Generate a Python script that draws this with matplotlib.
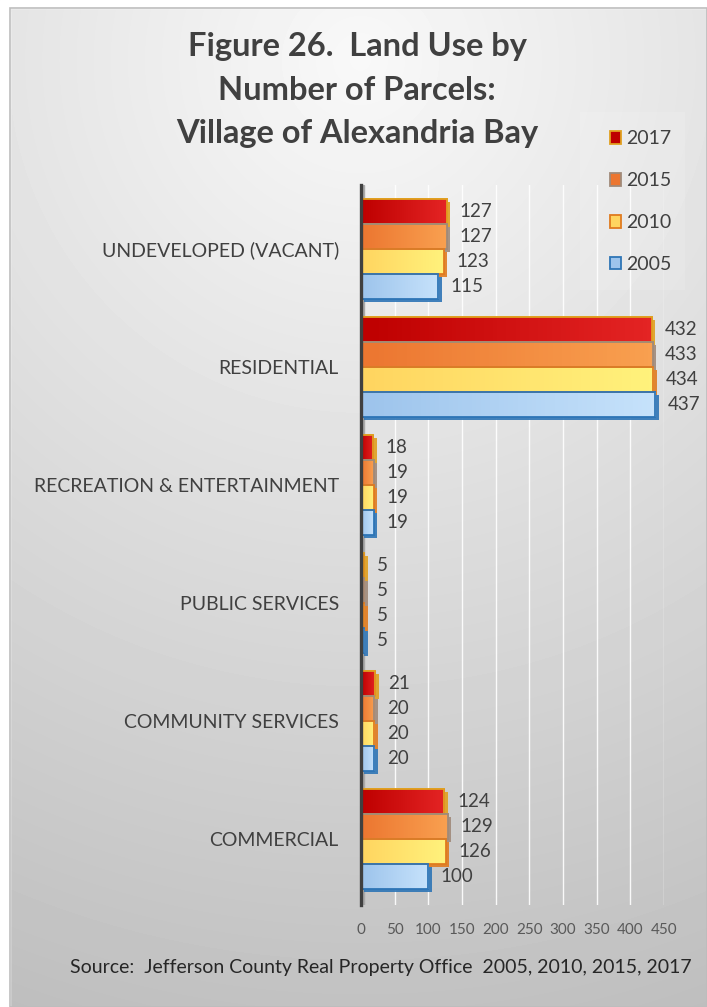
import numpy as np
import matplotlib
matplotlib.use('Agg')
import matplotlib.pyplot as plt
from matplotlib.patches import Rectangle, Patch
from matplotlib.colors import LinearSegmentedColormap
import matplotlib.patheffects as pe

plt.rcParams['font.family'] = ['Lato', 'DejaVu Sans']

# ------------------------------------------------------------
# data
# ------------------------------------------------------------
categories = ['UNDEVELOPED (VACANT)', 'RESIDENTIAL', 'RECREATION & ENTERTAINMENT',
              'PUBLIC SERVICES', 'COMMUNITY SERVICES', 'COMMERCIAL']
years = ['2017', '2015', '2010', '2005']
v2017 = [127, 432, 18, 5, 21, 124]
v2015 = [127, 433, 19, 5, 20, 129]
v2010 = [123, 434, 19, 5, 20, 126]
v2005 = [115, 437, 19, 5, 20, 100]
series = [v2017, v2015, v2010, v2005]
xticks = [0, 50, 100, 150, 200, 250, 300, 350, 400, 450]

# left colour, right colour, outline
styles = {
    '2017': ('#BE0000', '#E42424', '#E0A020'),
    '2015': ('#EC7630', '#F9A050', '#A08A7A'),
    '2010': ('#FFD560', '#FFF27C', '#E07B1F'),
    '2005': ('#9DC4EC', '#C6E2FB', '#2E75B6'),
}

W, H = 707, 1007
fig = plt.figure(figsize=(W / 100, H / 100), dpi=100)

# background panel with soft radial shading
bg = fig.add_axes([0, 0, 1, 1], zorder=-10)
bg.set_xlim(0, W)
bg.set_ylim(H, 0)
bg.axis('off')
yy, xx = np.mgrid[0:H, 0:W]
r = np.hypot((xx - 360) / H, (yy - 60) / H)
shade = np.clip(0.975 - 0.23 * r, 0, 1)
bg.imshow(shade, cmap='gray', vmin=0, vmax=1, extent=(0, W, H, 0), aspect='auto')
bg.add_patch(Rectangle((0, 0), 10, H, color='white', zorder=3))
bg.add_patch(Rectangle((0, 0), W, 8, color='white', zorder=3))
bg.add_patch(Rectangle((10, 8), W - 10, H - 8, fill=False, ec='#BDBDBD', lw=1.2, zorder=4))
# faint panel behind the legend
bg.add_patch(Rectangle((580, 112), 105, 178, color='white', alpha=0.12, lw=0, zorder=2))

# ------------------------------------------------------------
# bars
# ------------------------------------------------------------
ax = fig.add_axes([361 / W, 102 / H, 303 / W, 720 / H])
ax.patch.set_alpha(0)
ax.set_xlim(0, 450)
ax.set_ylim(5.56, -0.54)

bh = 0.212
ycat = np.arange(len(categories))
offsets = (np.arange(4) - 1.5) * bh
grad = np.linspace(0, 1, 64).reshape(1, -1)

for yr, vals, off in zip(years, series, offsets):
    c0, c1, ec = styles[yr]
    cmap = LinearSegmentedColormap.from_list(yr, [c0, c1])
    bars = ax.barh(ycat + off, vals, height=bh, color=c0, edgecolor=ec, lw=1.3, zorder=3,
                   path_effects=[pe.SimplePatchShadow(offset=(2.5, -2.5), shadow_rgbFace=ec, alpha=0.9),
                                 pe.Normal()])
    for b, v in zip(bars, vals):
        y0 = b.get_y()
        im = ax.imshow(grad, cmap=cmap, extent=(0, v, y0 + bh, y0), aspect='auto', zorder=3.5)
        im.set_clip_path(b)
        ax.add_patch(Rectangle((0, y0), v, bh, fill=False, ec=ec, lw=1.3, zorder=4))
        ax.annotate(f'{v}', (v, y0 + bh / 2), xytext=(9, 0), textcoords='offset points',
                    ha='left', va='center', fontsize=13.5, color='#404040')

ax.axvspan(0, 5, color='#A9A9A9', zorder=1)
ax.set_xticks(xticks)
ax.set_yticks(ycat)
ax.set_yticklabels(categories)
ax.tick_params(axis='x', length=0, pad=13, labelsize=11, labelcolor='#595959')
ax.tick_params(axis='y', length=0, pad=16, labelsize=14, labelcolor='#404040')
ax.grid(axis='x', color='white', lw=1.0, alpha=0.9, zorder=0)
ax.set_axisbelow(True)
for s in ['top', 'right', 'bottom']:
    ax.spines[s].set_visible(False)
ax.spines['left'].set_color('#404040')
ax.spines['left'].set_linewidth(2.4)
ax.spines['left'].set_zorder(5)

# ------------------------------------------------------------
# title, legend, source
# ------------------------------------------------------------
fig.text(357 / W, 1 - 90 / H,
         'Figure 26.  Land Use by\nNumber of Parcels:\nVillage of Alexandria Bay',
         ha='center', va='center', fontsize=23.5, fontweight='bold', color='#404040',
         linespacing=1.6)

handles = [Patch(facecolor=styles[y][0], edgecolor=styles[y][2], lw=1.3) for y in years]
fig.legend(handles, years, loc='upper left', bbox_to_anchor=(592 / W, 1 - 113 / H),
           frameon=False, fontsize=14, handlelength=0.6, handleheight=0.6,
           handletextpad=0.25, labelspacing=1.28, labelcolor='#404040')

fig.text(381 / W, 1 - 968 / H,
         'Source:  Jefferson County Real Property Office  2005, 2010, 2015, 2017',
         ha='center', va='center', fontsize=14, color='#262626')

fig.savefig('out.png', dpi=100)
